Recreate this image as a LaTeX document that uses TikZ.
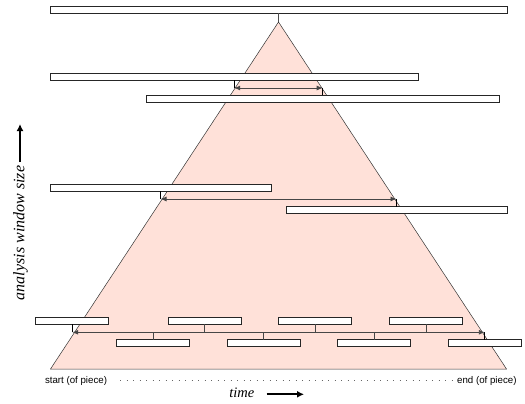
\documentclass[tikz,border=0pt]{standalone}
\usepackage{fontspec}
\newfontfamily\labsans{Liberation Sans}
\newfontfamily\labserif{Liberation Serif}
\usetikzlibrary{arrows.meta}
\definecolor{tripink}{RGB}{255,225,217}
\definecolor{lineg}{RGB}{70,70,70}
\begin{document}
\begin{tikzpicture}[x=1pt,y=-1pt,
  bar/.style={draw=black!85,fill=white,line width=0.9pt,minimum height=7pt,inner sep=0pt,outer sep=0pt},
  tick/.style={draw=black,line width=0.8pt},
  span/.style={draw=lineg,line width=0.9pt,{Latex[length=6pt,width=5pt]}-{Latex[length=6pt,width=5pt]}},
  sanslab/.style={font=\labsans\fontsize{9.7}{11}\selectfont,inner sep=0pt},
  seriflab/.style={font=\labserif\itshape\fontsize{14.5}{16}\selectfont,inner sep=0pt},
  bigarrow/.style={draw=black,line width=2.2pt,-{Latex[length=7pt,width=7pt]}}]
\useasboundingbox (0,0) rectangle (525,404);
% triangle
\coordinate (apex) at (278.5,22);
\coordinate (bl) at (50.5,369);
\coordinate (br) at (506.5,369);
\draw[fill=tripink,draw=black!80,line width=0.5pt] (apex) -- (bl) -- (br) -- cycle;
% top level
\node[bar,minimum width=457pt] (top) at (278.5,10) {};
\draw[tick,draw=black!70] (top.south) -- (apex);
% level 2
\node[bar,minimum width=368pt] (a) at (234.2,76.7) {};
\node[bar,minimum width=353pt] (b) at (322.7,99) {};
\coordinate (a2) at (234.2,88);
\coordinate (b2) at (322.7,88);
\draw[tick] (a.south) -- (a2);
\draw[tick] (b.north) -- (b2);
\draw[span] (a2) -- (b2);
% level 3
\node[bar,minimum width=221pt] (c) at (160.5,187.8) {};
\node[bar,minimum width=221pt] (d) at (396.5,210) {};
\coordinate (c2) at (160.5,199);
\coordinate (d2) at (396.5,199);
\draw[tick] (c.south) -- (c2);
\draw[tick] (d.north) -- (d2);
\draw[span] (c2) -- (d2);
% bottom level
\foreach \n/\x in {u1/72.2,u2/204.8,u3/315.2,u4/426}
  \node[bar,minimum width=73pt] (\n) at (\x,320.8) {};
\foreach \n/\x in {l1/153.2,l2/263.8,l3/374.2,l4/484.8}
  \node[bar,minimum width=73pt] (\n) at (\x,343.3) {};
\coordinate (e1) at (72.2,332.3);
\coordinate (e2) at (484.8,332.3);
\draw[tick] (u1.south) -- (e1);
\draw[tick] (l4.north) -- (e2);
\foreach \n in {u2,u3,u4}
  \draw[draw=lineg,line width=0.9pt] (\n.south) -- (\n.south |- e1);
\foreach \n in {l1,l2,l3}
  \draw[draw=lineg,line width=0.9pt] (\n.north) -- (\n.north |- e1);
\draw[span] (e1) -- (e2);
% time axis labels
\node[sanslab,anchor=west] (st) at (44.8,380.7) {start (of piece)};
\node[sanslab,anchor=east] (en) at (516.7,380.7) {end (of piece)};
\draw[draw=black!60,line width=0.6pt,dash pattern=on 0.6pt off 5.9pt] (st.east) ++(13,0) coordinate (d0) -- (en.west) ++(-10,0) coordinate (d1);
\node[seriflab] (tm) at (241.8,393.2) {time};
\coordinate (ta0) at (266.7,394.3);
\coordinate (ta1) at (304,394.3);
\draw[bigarrow] (ta0) -- (ta1);
% vertical label
\node[seriflab,font=\labserif\itshape\fontsize{16}{18}\selectfont,rotate=90] (aw) at (20.5,233) {analysis window size};
\coordinate (va0) at (20,162);
\coordinate (va1) at (20,124);
\draw[bigarrow] (va0) -- (va1);
\end{tikzpicture}
\end{document}
